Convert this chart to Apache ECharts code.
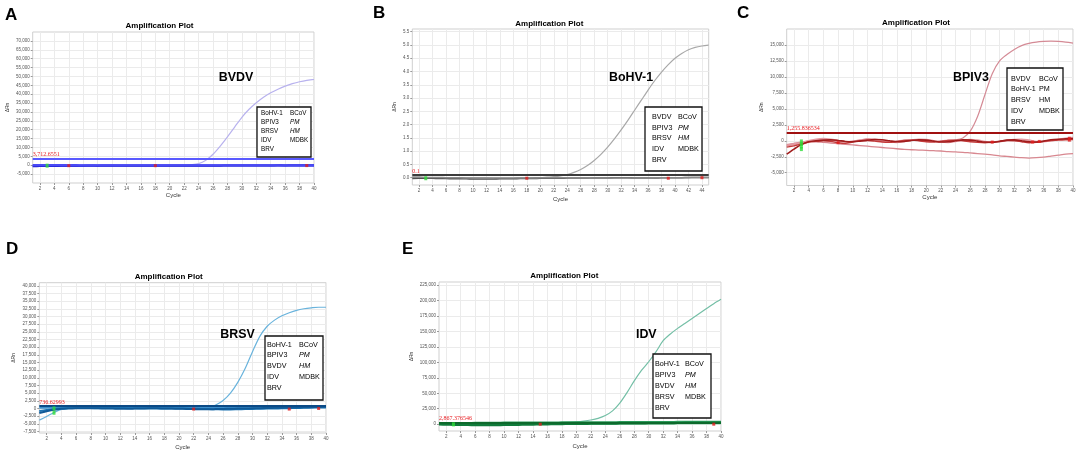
<!DOCTYPE html>
<html>
<head>
<meta charset="utf-8">
<title>Amplification Plots</title>
<script src="https://cdn.jsdelivr.net/npm/echarts@6.0.0/dist/echarts.min.js"></script>
<style>
  html, body { margin: 0; padding: 0; background: #fff; }
  #chart { width: 1084px; height: 454px; }
</style>
</head>
<body>
<div id="chart"></div>
<script>
// tick labels
const cycleTicks40 = [2, 4, 6, 8, 10, 12, 14, 16, 18, 20, 22, 24, 26, 28, 30, 32, 34, 36, 38, 40];
const cycleTicks44 = [2, 4, 6, 8, 10, 12, 14, 16, 18, 20, 22, 24, 26, 28, 30, 32, 34, 36, 38, 40, 42, 44];
const aYTicks = [-5000, 0, 5000, 10000, 15000, 20000, 25000, 30000, 35000, 40000, 45000, 50000, 55000, 60000, 65000, 70000];
const bYTicks = [0, 0.5, 1, 1.5, 2, 2.5, 3, 3.5, 4, 4.5, 5, 5.5];
const cYTicks = [-5000, -2500, 0, 2500, 5000, 7500, 10000, 12500, 15000];
const dYTicks = [-7500, -5000, -2500, 0, 2500, 5000, 7500, 10000, 12500, 15000, 17500, 20000, 22500, 25000, 27500, 30000, 32500, 35000, 37500, 40000];
const eYTicks = [0, 25000, 50000, 75000, 100000, 125000, 150000, 175000, 200000, 225000];

// A - BVDV (cycles 1..40)
const aAmp = [60, 40, 20, 10, 0, -20, -30, -20, 0, 20, 30, 20, 0, -10, -20, -10, 0, 10, 20, 30, 60, 120,
  300, 900, 2800, 6200, 10800, 16000, 21500, 27000, 31500, 35200, 38300, 40800, 42800, 44500, 45900, 47000, 47800, 48300];
const aBase1 = [-350, -310, -290, -270, -260, -240, -250, -230, -210, -220, -200, -190, -200, -180, -170, -180, -160, -170, -150, -160,
  -140, -150, -130, -140, -120, -130, -110, -120, -100, -110, -90, -100, -80, -90, -70, -80, -60, -70, -50, -60];
const aBase2 = [150, 110, 100, 80, 90, 60, 70, 50, 60, 40, 50, 30, 40, 20, 30, 10, 20, 0, 10, -10,
  0, -20, -10, -30, -20, -40, -30, -50, -40, -60, -50, -70, -60, -80, -70, -90, -80, -100, -90, -110];
const aBase3 = [-600, -500, -420, -380, -350, -330, -320, -310, -300, -300, -300, -290, -290, -280, -280, -270, -270, -260, -260, -250,
  -250, -240, -240, -230, -230, -220, -220, -210, -210, -200, -200, -190, -190, -180, -180, -170, -170, -160, -160, -150];
const aThreshold = 3712.6551;
const aGreen = [[3, -250]];
const aRed = [[6, -250], [18, -250], [39, -200]];
const aLegendLeft = ['BoHV-1', 'BPIV3', 'BRSV', 'IDV', 'BRV'];
const aLegendRight = ['BCoV', 'PM', 'HM', 'MDBK'];

// B - BoHV-1 (cycles 1..45)
const bAmp = [0.01, 0.0, -0.01, -0.01, -0.02, -0.02, -0.02, -0.02, -0.01, -0.01, -0.01, -0.01, -0.02, -0.02, -0.02, -0.02, -0.01, -0.01, 0.0, 0.0,
  0.02, 0.04, 0.07, 0.12, 0.2, 0.31, 0.46, 0.65, 0.88, 1.15, 1.46, 1.8, 2.16, 2.54, 2.92, 3.3, 3.66, 3.98, 4.26, 4.5, 4.68, 4.82, 4.91, 4.96, 4.99];
const bBase1 = [-0.03, -0.02, -0.02, -0.02, -0.03, -0.03, -0.04, -0.04, -0.04, -0.05, -0.05, -0.05, -0.05, -0.04, -0.04,
  -0.04, -0.03, -0.03, -0.03, -0.02, -0.02, -0.02, -0.02, -0.01, -0.01, -0.01, -0.01, -0.01, -0.01, -0.01,
  0.0, 0.0, 0.0, -0.01, -0.01, -0.01, -0.01, 0.0, 0.0, 0.0, 0.0, 0.01, 0.01, 0.01, 0.01];
const bBase2 = [0.02, 0.02, 0.01, 0.01, 0.01, 0.0, 0.0, 0.0, -0.01, -0.01, -0.01, -0.01, -0.01, -0.01, -0.01,
  -0.01, -0.01, -0.01, -0.01, 0.0, 0.0, 0.0, 0.0, 0.0, 0.0, 0.0, 0.0, -0.01, -0.01, -0.01,
  -0.01, -0.01, -0.01, -0.01, -0.01, -0.01, 0.0, 0.0, 0.0, 0.0, 0.0, 0.0, 0.01, 0.01, 0.01];
const bThreshold = 0.1;
const bGreen = [[3, -0.02]];
const bRed = [[18, -0.02], [39, -0.02], [44, 0.0]];
const bLegendLeft = ['BVDV', 'BPIV3', 'BRSV', 'IDV', 'BRV'];
const bLegendRight = ['BCoV', 'PM', 'HM', 'MDBK'];

// C - BPIV3 (cycles 1..40)
const cAmp = [-600, -400, -200, -50, 50, 100, 0, -100, -150, -50, 100, 150, 50, -100, -150, -50, 100, 150, 50, -50, -100, 0, 100,
  150, 450, 1500, 3800, 7200, 10500, 12500, 13500, 14300, 14900, 15250, 15450, 15550, 15600, 15550, 15450, 15300];
const cBase1 = [-2100, -1300, -600, -150, 0, 100, 150, 50, -100, -150, -50, 100, 200, 150, 0, -150, -100, 50, 150, 100,
  -50, -200, -150, 0, 150, 100, -50, -200, -250, -100, 100, 150, 0, -150, -200, -50, 150, 250, 300, 350];
const cBase2 = [-700, -500, -300, 0, 250, 350, 250, 50, -150, -100, 100, 300, 250, 50, -150, -250, -100, 100, 250, 200,
  0, -200, -250, -100, 100, 200, 100, -100, -200, -150, 50, 200, 250, 100, -100, -150, 0, 200, 400, 500];
const cBase3 = [-1000, -800, -500, -200, -100, 0, -100, -300, -400, -200, 0, 50, -50, -200, -250, -100, 50, 100, 0, -150,
  -200, -100, 50, 100, 0, -150, -250, -300, -200, -50, 50, 0, -150, -300, -250, -100, 50, 100, 150, 200];
const cNeg = [-800, -600, -400, -100, -150, -250, -350, -450, -550, -650, -750, -850, -950, -1050, -1150, -1250, -1350, -1400, -1450, -1500,
  -1550, -1600, -1700, -1750, -1800, -1900, -2000, -2100, -2200, -2350, -2450, -2550, -2650, -2700, -2650, -2550, -2400, -2250, -2100, -2000];
const cThreshold = 1255.836534;
const cGreen = [[3, -100], [3, -500], [3, -900], [3, -1300]];
const cRed = [[8, -300], [29, -200], [34.5, -200], [35.4, -100], [39.5, 100], [39.5, 400]];
const cLegendLeft = ['BVDV', 'BoHV-1', 'BRSV', 'IDV', 'BRV'];
const cLegendRight = ['BCoV', 'PM', 'HM', 'MDBK'];

// D - BRSV (cycles 1..40)
const dAmp = [-3800, -2600, -1300, -300, 0, 100, 50, 0, -50, -100, -50, 0, 50, 0, -50, -100, -100, -50, 0, 50,
  0, -50, 0, 200, 1100, 2600, 5000, 8500, 13000, 18500, 23500, 26800, 28800, 30200, 31200, 32000, 32500, 32800, 33000, 33000];
const dBase1 = [-1500, -900, -400, -100, 0, 50, 100, 100, 50, 0, -50, -100, -100, -50, 0, 50, 50, 0, -50, -100,
  -150, -200, -250, -250, -200, -150, -100, -50, 0, 50, 100, 150, 200, 250, 300, 350, 400, 450, 500, 550];
const dBase2 = [-800, -500, -200, 0, 150, 200, 250, 250, 200, 200, 150, 150, 100, 100, 100, 50, 50, 0, 0, -50,
  -50, -100, -150, -200, -250, -300, -300, -250, -200, -150, -100, -50, 0, 50, 100, 150, 200, 250, 300, 350];
const dBase3 = [200, 250, 300, 350, 400, 400, 450, 450, 450, 400, 400, 400, 350, 350, 350, 350, 300, 300, 300, 300,
  300, 300, 300, 300, 350, 350, 400, 400, 450, 450, 500, 500, 550, 550, 600, 600, 650, 650, 700, 700];
const dThreshold = 736.62993;
const dGreen = [[3, 0], [3, -1400]];
const dRed = [[22, -200], [35, -200], [39, 0]];
const dLegendLeft = ['BoHV-1', 'BPIV3', 'BVDV', 'IDV', 'BRV'];
const dLegendRight = ['BCoV', 'PM', 'HM', 'MDBK'];

// E - IDV (cycles 1..40)
const eAmp = [300, 400, 500, 600, 700, 800, 900, 1000, 1100, 1200, 1300, 1400, 1500, 1700, 1900, 2100, 2400, 2700, 3100, 3800,
  5000, 6800, 9500, 14000, 21500, 34000, 51000, 70000, 87000, 101000, 117000, 135000, 146000, 155000, 163000, 171000, 179000, 187000, 195000, 202000];
const eBase1 = [-500, -800, -1000, -1200, -1300, -1400, -1500, -1500, -1400, -1300, -1200, -1000, -800, -600, -400, -200, 0, 200, 400, 500,
  600, 700, 800, 900, 1000, 1100, 1200, 1300, 1400, 1500, 1600, 1700, 1800, 1900, 2000, 2100, 2200, 2300, 2400, 2500];
const eBase2 = [1500, 1600, 1700, 1800, 1900, 2000, 2100, 2200, 2300, 2400, 2400, 2500, 2500, 2600, 2600, 2700, 2700, 2800, 2800, 2900,
  2900, 3000, 3000, 3100, 3100, 3200, 3200, 3300, 3300, 3400, 3400, 3500, 3500, 3600, 3600, 3700, 3700, 3800, 3800, 3900];
const eBase3 = [800, 700, 600, 500, 500, 400, 400, 300, 300, 300, 300, 400, 400, 500, 500, 600, 600, 700, 700, 800,
  800, 900, 900, 1000, 1000, 1100, 1100, 1200, 1200, 1300, 1300, 1400, 1400, 1500, 1500, 1600, 1600, 1700, 1700, 1800];
const eThreshold = 2867.376546;
const eGreen = [[3, -300]];
const eRed = [[15, 0], [39, 0]];
const eLegendLeft = ['BoHV-1', 'BPIV3', 'BVDV', 'BRSV', 'BRV'];
const eLegendRight = ['BCoV', 'PM', 'HM', 'MDBK'];

const FONT = 'Liberation Sans, Arial, sans-serif';
const grids = [], xAxes = [], yAxes = [], series = [], graphics = [];

function pts(arr) {
  return arr.map((v, i) => [i + 1, v]);
}

function thousands(v) {
  return v.toLocaleString('en-US', { maximumFractionDigits: 6 });
}

function txt(x, y, text, size, opts) {
  const o = opts || {};
  graphics.push({
    type: 'text', x: x, y: y, z: 100, scaleX: o.scaleX || 1,
    style: {
      text: text, fill: '#000', fontSize: size, fontFamily: FONT,
      fontWeight: o.weight || 'normal', fontStyle: o.italic ? 'italic' : 'normal',
      textAlign: o.align || 'left', textVerticalAlign: 'middle'
    }
  });
}

// legend box drawn over the plot
function legendBox(b, left, right, italic) {
  graphics.push({
    type: 'rect', z: 99,
    shape: { x: b.x, y: b.y, width: b.w, height: b.h },
    style: { fill: '#fff', stroke: '#111', lineWidth: 1.3 }
  });
  const sx = b.sx || 1;
  left.forEach((t, i) => txt(b.c1, b.rows[i], t, b.fs, { scaleX: sx }));
  right.forEach((t, i) => txt(b.c2, b.rows[i], t, b.fs, { scaleX: sx, italic: italic && (t === 'PM' || t === 'HM') }));
}

function addPanel(p) {
  const i = grids.length;
  grids.push({
    left: p.grid[0], top: p.grid[1], width: p.grid[2], height: p.grid[3],
    show: true, borderColor: '#cfcfcf', borderWidth: 1, backgroundColor: '#fff',
    containLabel: false, outerBoundsMode: 'none'
  });
  xAxes.push({
    type: 'value', gridIndex: i, min: 1, max: p.xMax,
    name: 'Cycle', nameLocation: 'middle', nameGap: p.xGap,
    nameTextStyle: { fontSize: 6, color: '#333', fontFamily: FONT },
    axisLine: { show: false, onZero: false },
    axisTick: { show: true, customValues: p.xTicks, length: 2, lineStyle: { color: '#999' } },
    axisLabel: { customValues: p.xTicks, fontSize: 4.5, color: '#555', margin: 3, fontFamily: FONT },
    splitLine: { show: false }
  });
  yAxes.push({
    type: 'value', gridIndex: i, min: p.yMin, max: p.yMax,
    name: 'ΔRn', nameLocation: 'middle', nameRotate: 90, nameGap: p.yGap,
    nameTextStyle: { fontSize: 5, color: '#333', fontFamily: FONT },
    axisLine: { show: false, onZero: false },
    axisTick: { show: true, customValues: p.yTicks, length: 2, lineStyle: { color: '#999' } },
    axisLabel: { customValues: p.yTicks, fontSize: 4.5, color: '#555', margin: 3, fontFamily: FONT, formatter: p.fmt },
    splitLine: { show: false }
  });
  const ax = { xAxisIndex: i, yAxisIndex: i, animation: false };
  // background grid lines at tick positions (markLine z defaults above series, so push it down)
  series.push(Object.assign({
    type: 'line', data: pts(p.amp), symbol: 'none', silent: true, z: 0,
    lineStyle: { opacity: 0 },
    markLine: {
      z: 0, silent: true, symbol: 'none', animation: false, label: { show: false },
      lineStyle: { color: '#ebebeb', width: 1, type: 'solid' },
      data: p.xTicks.map(v => ({ xAxis: v })).concat(p.yTicks.map(v => ({ yAxis: v })))
    }
  }, ax));
  series.push(Object.assign({
    type: 'line', data: pts(p.amp), symbol: 'none', smooth: 0.3, z: 2,
    lineStyle: { color: p.ampColor, width: 1.2 }
  }, ax));
  p.bases.forEach(b => series.push(Object.assign({
    type: 'line', data: pts(b[0]), symbol: 'none', smooth: 0.3, z: 3,
    lineStyle: { color: b[1], width: b[2] }
  }, ax)));
  // threshold
  series.push(Object.assign({
    type: 'line', data: pts(p.amp), symbol: 'none', silent: true, z: 4,
    lineStyle: { opacity: 0 },
    markLine: {
      z: 4, silent: true, symbol: 'none', animation: false,
      lineStyle: { color: p.thrColor, width: 2, type: 'solid' },
      label: {
        show: true, position: 'insideStartTop', distance: [0, 1],
        formatter: thousands(p.thr), color: '#e8191e', fontSize: 6,
        fontFamily: 'Liberation Serif, serif'
      },
      data: [{ yAxis: p.thr }]
    }
  }, ax));
  series.push(Object.assign({
    type: 'scatter', data: p.green, symbol: 'rect', symbolSize: [3, 4], z: 5,
    itemStyle: { color: '#2fdc3a' }
  }, ax));
  series.push(Object.assign({
    type: 'scatter', data: p.red, symbol: 'rect', symbolSize: 3, z: 5,
    itemStyle: { color: '#e21b1b' }
  }, ax));

  txt(p.letter[1], p.letter[2], p.letter[0], 17, { weight: 'bold' });
  txt(p.title[0], p.title[1], 'Amplification Plot', 8, { weight: 'bold', align: 'center' });
  txt(p.virus[1], p.virus[2], p.virus[0], 13.5, { weight: 'bold', align: 'center', scaleX: 0.92 });
  legendBox(p.box, p.legend[0], p.legend[1], p.italic);
}

const fmtK = v => thousands(v);
const fmt1 = v => v.toFixed(1);

addPanel({
  grid: [32.7, 32, 281.3, 151], xMax: 40, yMin: -10000, yMax: 75000,
  xTicks: cycleTicks40, yTicks: aYTicks, fmt: fmtK, xGap: 9, yGap: 23,
  amp: aAmp, ampColor: '#b8b2ee',
  bases: [[aBase3, '#1f1fc8', 2], [aBase1, '#2f2fe6', 2], [aBase2, '#4a4af5', 2]],
  thr: aThreshold, thrColor: '#5a5aff', green: aGreen, red: aRed,
  letter: ['A', 5, 15], title: [159.5, 26], virus: ['BVDV', 236, 77],
  box: { x: 257, y: 107, w: 54, h: 50, c1: 261, c2: 290, rows: [113, 122, 131, 140, 149], fs: 7, sx: 0.9 },
  legend: [aLegendLeft, aLegendRight], italic: true
});
addPanel({
  grid: [412.3, 29, 296.4, 156], xMax: 45, yMin: -0.275, yMax: 5.6,
  xTicks: cycleTicks44, yTicks: bYTicks, fmt: fmt1, xGap: 11, yGap: 15,
  amp: bAmp, ampColor: '#a8a8a8',
  bases: [[bBase1, '#505050', 1.6], [bBase2, '#8a8a8a', 1.6]],
  thr: bThreshold, thrColor: '#3c3c3c', green: bGreen, red: bRed,
  letter: ['B', 373, 13], title: [549.3, 24], virus: ['BoHV-1', 631, 77.5],
  box: { x: 645, y: 107, w: 57, h: 64, c1: 652, c2: 678, rows: [117, 128, 138, 149, 160], fs: 7.2 },
  legend: [bLegendLeft, bLegendRight], italic: true
});
addPanel({
  grid: [786.7, 29, 286.3, 156.5], xMax: 40, yMin: -7000, yMax: 17500,
  xTicks: cycleTicks40, yTicks: cYTicks, fmt: fmtK, xGap: 7, yGap: 23,
  amp: cAmp, ampColor: '#d48a95',
  bases: [[cNeg, '#d88890', 1.3], [cBase2, '#e49aa2', 1.6], [cBase3, '#c43a3a', 1.4], [cBase1, '#a01c1c', 1.6]],
  thr: cThreshold, thrColor: '#a01010', green: cGreen, red: cRed,
  letter: ['C', 737, 13], title: [916, 23], virus: ['BPIV3', 971, 77.5],
  box: { x: 1007, y: 68, w: 56, h: 62, c1: 1011, c2: 1039, rows: [79, 89, 100, 111, 122], fs: 7.2 },
  legend: [cLegendLeft, cLegendRight], italic: false
});
addPanel({
  grid: [39.3, 282.7, 286.7, 150.3], xMax: 40, yMin: -8000, yMax: 41000,
  xTicks: cycleTicks40, yTicks: dYTicks, fmt: fmtK, xGap: 11, yGap: 23,
  amp: dAmp, ampColor: '#69b3dc',
  bases: [[dBase3, '#3d8fcc', 2], [dBase2, '#1c74b4', 2], [dBase1, '#0f5a98', 2]],
  thr: dThreshold, thrColor: '#0b4a86', green: dGreen, red: dRed,
  letter: ['D', 6, 249], title: [168.7, 276.7], virus: ['BRSV', 237.5, 334],
  box: { x: 265, y: 336, w: 58, h: 64, c1: 267, c2: 299, rows: [345, 355, 366, 377, 388], fs: 7.2 },
  legend: [dLegendLeft, dLegendRight], italic: true
});
addPanel({
  grid: [439, 282, 282, 149], xMax: 40, yMin: -11000, yMax: 230000,
  xTicks: cycleTicks40, yTicks: eYTicks, fmt: fmtK, xGap: 12, yGap: 25,
  amp: eAmp, ampColor: '#74bfa6',
  bases: [[eBase3, '#5ab882', 2.2], [eBase2, '#2a9a5a', 2.2], [eBase1, '#0f7a3a', 2.2]],
  thr: eThreshold, thrColor: '#0d6a2c', green: eGreen, red: eRed,
  letter: ['E', 402, 249], title: [564.3, 276], virus: ['IDV', 646.3, 334.5],
  box: { x: 653, y: 354, w: 58, h: 64, c1: 655, c2: 685, rows: [364, 375, 386, 397, 408], fs: 7.2 },
  legend: [eLegendLeft, eLegendRight], italic: true
});

const chart = echarts.init(document.getElementById('chart'), null, { renderer: 'canvas' });
chart.setOption({
  backgroundColor: '#fff',
  animation: false,
  grid: grids,
  xAxis: xAxes,
  yAxis: yAxes,
  series: series,
  graphic: { elements: graphics }
});
</script>
</body>
</html>
